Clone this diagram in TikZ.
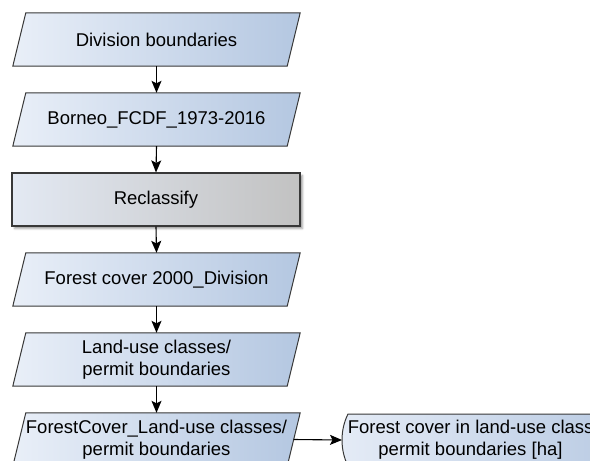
\documentclass[tikz,border=0pt]{standalone}
\usepackage{fontspec}
\setmainfont{Liberation Sans}
\usetikzlibrary{arrows.meta, shadows.blur}

\definecolor{dataL}{HTML}{E9EFF8}
\definecolor{dataR}{HTML}{B4C7E1}
\definecolor{procL}{HTML}{E3E9F3}
\definecolor{procR}{HTML}{C2C2C2}
\definecolor{outL}{HTML}{E4EBF6}
\definecolor{outR}{HTML}{B7C9E2}
\definecolor{edge}{HTML}{383838}

\pgfdeclarelayer{frames}
\pgfsetlayers{frames,main}

% slanted data frame behind a named text node
\newcommand\dataframe[1]{%
  \begin{pgfonlayer}{frames}
    \path[dataframe] ([xshift=-6.5pt]#1.south west) -- ([xshift=6.5pt]#1.north west)
      -- ([xshift=6.5pt]#1.north east) -- ([xshift=-6.5pt]#1.south east) -- cycle;
  \end{pgfonlayer}}

\begin{document}
\begin{tikzpicture}[x=1pt, y=-1pt,
  font=\fontsize{18.5pt}{22pt}\selectfont,
  data/.style={rectangle, minimum width=274pt, minimum height=53pt, inner sep=0pt,
    align=center},
  dataframe/.style={draw=edge, line width=1pt, left color=dataL, right color=dataR},
  proc/.style={rectangle, minimum width=288pt, minimum height=53pt, inner sep=0pt,
    draw=edge, line width=1.2pt, left color=procL, right color=procR,
    blur shadow={shadow xshift=2.5pt, shadow yshift=-2.5pt, shadow blur radius=2pt,
      shadow opacity=40}},
  flow/.style={draw=black, line width=1.1pt, -{Stealth[length=12pt, width=10pt, inset=2.5pt]}}]

\useasboundingbox (0,0) rectangle (590,461);
\clip (0,0) rectangle (590,461);

% main processing chain
\node[data] (d1) at (156.5,39.5) {Division boundaries};
\node[data] (d2) at (156.5,119.5) {Borneo\_FCDF\_1973-2016};
\node[proc] (p1) at (156,199.5) {Reclassify};
\node[data] (d3) at (156.5,279.5) {Forest cover 2000\_Division};
\node[data] (d4) at (156.5,359.5) {Land-use classes/\\permit boundaries};
\node[data] (d5) at (156.5,439.5) {ForestCover\_Land-use classes/\\permit boundaries};
\dataframe{d1}
\dataframe{d2}
\dataframe{d3}
\dataframe{d4}
\dataframe{d5}

% output display shape
\coordinate (ow) at (342,440);
\path[draw=edge, line width=1pt, left color=outL, right color=outR]
  (348,414) -- (640,414) -- (640,466) -- (348,466)
  .. controls (344,458) and (342,449) .. (ow)
  .. controls (342,431) and (344,422) .. cycle;
\node[align=center] (out) at (483,439.5)
  {Forest cover in land-use classes/\\permit boundaries [ha]\hspace*{25pt}};

% connectors
\draw[flow] (d1.south) -- (d2.north);
\draw[flow] (d2.south) -- (p1.north);
\draw[flow] (p1.south) -- (d3.north);
\draw[flow] (d3.south) -- (d4.north);
\draw[flow] (d4.south) -- (d5.north);
\draw[flow] (d5.east) -- (ow);
\end{tikzpicture}
\end{document}
